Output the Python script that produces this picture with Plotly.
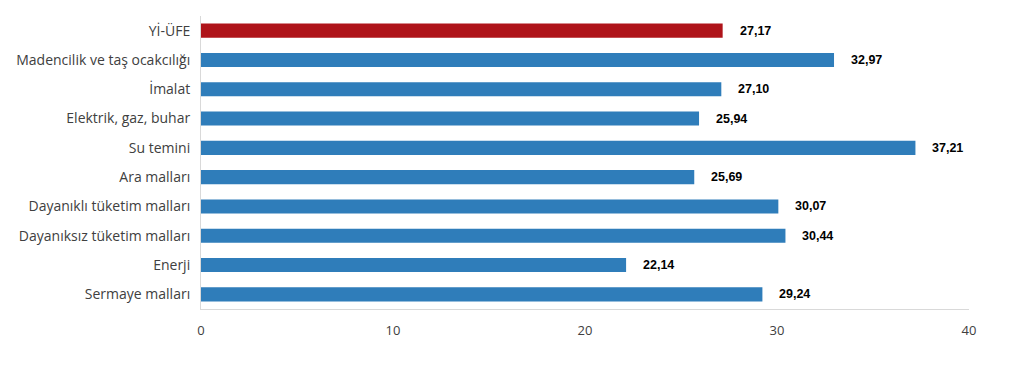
import plotly.graph_objects as go

categories = ["Yİ-ÜFE", "Madencilik ve taş ocakcılığı", "İmalat", "Elektrik, gaz, buhar",
              "Su temini", "Ara malları", "Dayanıklı tüketim malları",
              "Dayanıksız tüketim malları", "Enerji", "Sermaye malları"]
values = [27.17, 32.97, 27.10, 25.94, 37.21, 25.69, 30.07, 30.44, 22.14, 29.24]
tick_vals = [0, 10, 20, 30, 40]

RED = "#AF141A"
BLUE = "#2F7DBA"
colors = [RED] + [BLUE] * (len(values) - 1)

fig = go.Figure()
fig.add_trace(go.Bar(
    x=values, y=categories, orientation="h",
    marker=dict(color=colors, line=dict(width=0)),
    width=0.48, hoverinfo="skip",
))

for c, v in zip(categories, values):
    fig.add_annotation(
        x=v, y=c, text="<b>" + f"{v:.2f}".replace(".", ",") + "</b>",
        showarrow=False, xanchor="left", xshift=15,
        font=dict(family="Liberation Sans, Arial", size=12.5, color="#000000"),
    )

fig.update_layout(
    width=1006, height=363,
    margin=dict(l=189, r=45, t=8, b=62),
    plot_bgcolor="white", paper_bgcolor="white",
    showlegend=False,
    bargap=0.52,
    xaxis=dict(
        range=[0, 40], tickvals=tick_vals, ticktext=[str(t) for t in tick_vals],
        showgrid=False, zeroline=False, showline=True, linecolor="#D9D9D9", linewidth=1,
        ticks="outside", ticklen=9, tickcolor="rgba(0,0,0,0)",
        tickfont=dict(family="Open Sans", size=13, color="#404040"),
        fixedrange=True,
    ),
    yaxis=dict(
        categoryorder="array", categoryarray=categories, autorange="reversed",
        showgrid=False, zeroline=False, showline=True, linecolor="#D9D9D9", linewidth=1,
        ticks="outside", ticklen=7, tickcolor="rgba(0,0,0,0)",
        tickfont=dict(family="Open Sans", size=14, color="#404040"),
        fixedrange=True,
    ),
)

fig.write_html("out.html", config={"displayModeBar": False})
